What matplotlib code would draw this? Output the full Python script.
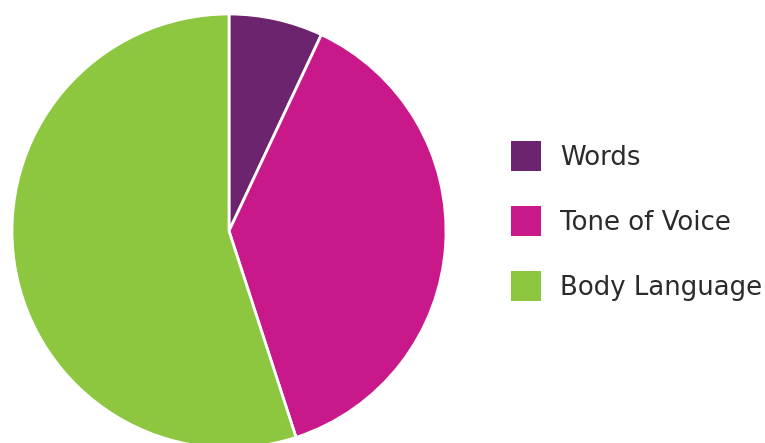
import matplotlib.pyplot as plt
from matplotlib.patches import Rectangle

# data
labels = ["Words", "Tone of Voice", "Body Language"]
shares = [7, 38, 55]
colors = ["#6b246d", "#c8188a", "#8dc63f"]

W, H = 765, 443
fig = plt.figure(figsize=(W / 100, H / 100), dpi=100)

# pie axes, placed in pixel terms
cx, cy, r = 229, 231, 217
ax = fig.add_axes([(cx - r) / W, (H - cy - r) / H, 2 * r / W, 2 * r / H])
ax.pie(
    shares,
    colors=colors,
    startangle=90,
    counterclock=False,
    wedgeprops=dict(edgecolor="white", linewidth=2),
    radius=1,
)
ax.set_xlim(-1, 1)
ax.set_ylim(-1, 1)
ax.set_aspect("equal")
ax.axis("off")

# legend drawn by hand
for i, (lab, col) in enumerate(zip(labels, colors)):
    yc = 156 + i * 65
    fig.add_artist(Rectangle(((511) / W, (H - yc - 15) / H), 30 / W, 30 / H,
                             transform=fig.transFigure, facecolor=col,
                             edgecolor="none"))
    fig.text(560 / W, (H - yc - 2) / H, lab, fontsize=18.7, color="#2b2b2b",
             va="center", ha="left", family="DejaVu Sans")

fig.savefig("out.png", dpi=100)
